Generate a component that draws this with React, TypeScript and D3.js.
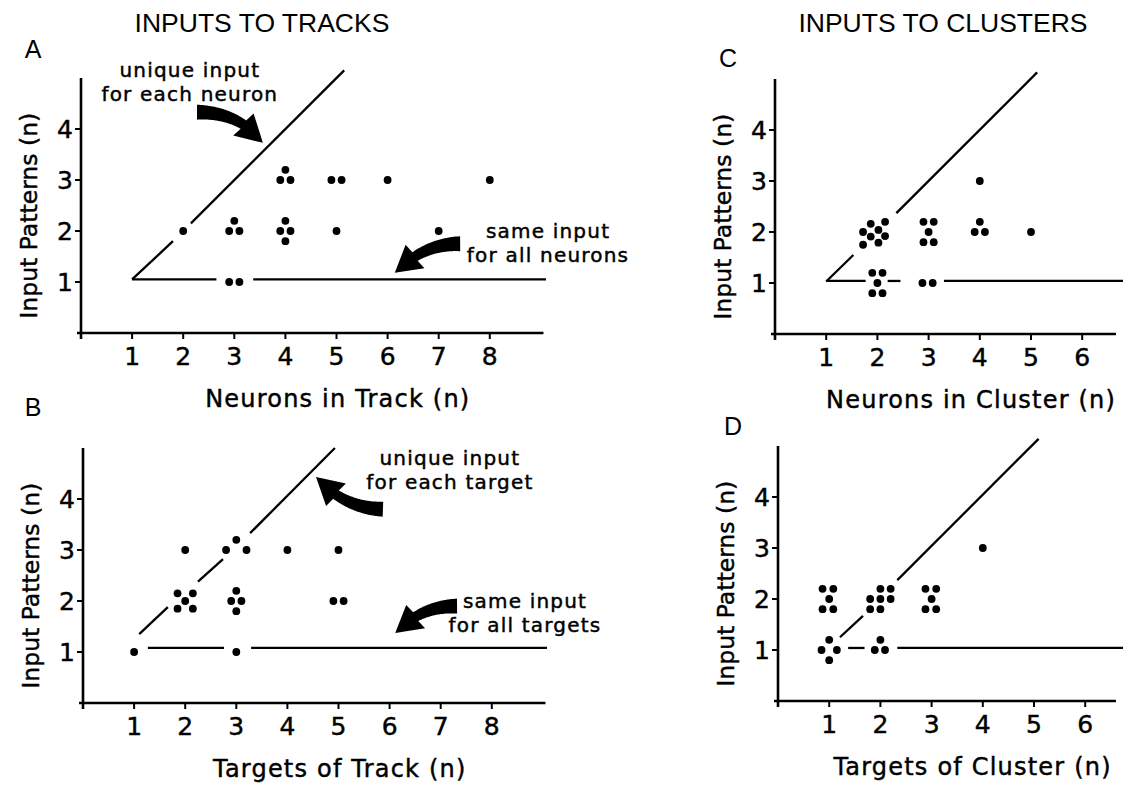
import React from "react";
import * as d3 from "d3";

type P = [number, number];

const W = 1123;
const H = 786;
const font = "'DejaVu Sans', sans-serif";
const titleFont = "'Liberation Sans', Arial, sans-serif";

// ---- data ----
const trackTicks = [1, 2, 3, 4, 5, 6, 7, 8];
const clusterTicks = [1, 2, 3, 4, 5, 6];
const patternTicks = [1, 2, 3, 4];

// A: neurons in track vs input patterns
const neuronTrackDots: P[] = [
  [2, 2],
  [2.9, 2], [3.1, 2], [3, 2.2],
  [2.9, 1], [3.1, 1],
  [3.9, 3], [4.1, 3], [4, 3.2],
  [4, 2.2], [3.9, 2], [4.1, 2], [4, 1.8],
  [4.9, 3], [5.1, 3],
  [5, 2], [6, 3], [7, 2], [8, 3],
];
const neuronTrackDiag: P[][] = [[[1, 1.05], [1.8, 1.8]], [[2.15, 2.15], [5.15, 5.15]]];
const neuronTrackFlat: P[][] = [[[1, 1.05], [2.65, 1.05]], [[3.37, 1.05], [9.1, 1.05]]];

// B: targets of track vs input patterns
const targetTrackDots: P[] = [
  [1, 1], [2, 3], [2.8, 3], [3.2, 3], [3, 3.2], [4, 3], [5, 3],
  [1.85, 2.15], [2.15, 2.15], [2, 2], [1.85, 1.85], [2.15, 1.85],
  [3, 2.2], [2.9, 2], [3.1, 2], [3, 1.8],
  [4.9, 2], [5.1, 2], [3, 1],
];
const targetTrackDiag: P[][] = [
  [[1.1, 1.35], [1.66, 1.88]],
  [[2.25, 2.38], [2.74, 2.82]],
  [[3.27, 3.33], [4.93, 5.0]],
];
const targetTrackFlat: P[][] = [[[1.27, 1.08], [2.76, 1.08]], [[3.29, 1.08], [9.08, 1.08]]];

// C: neurons in cluster vs input patterns
const neuronClusterDots: P[] = [
  [1.87, 2.16], [2.15, 2.2], [1.72, 2.0], [2.02, 2.04],
  [1.87, 1.91], [2.15, 1.92], [1.72, 1.75], [2.02, 1.79],
  [2.9, 2.2], [3.1, 2.2], [3, 2], [2.9, 1.8], [3.1, 1.8],
  [4, 3], [4, 2.2], [3.9, 2], [4.1, 2], [5, 2],
  [1.9, 1.2], [2.1, 1.2], [2, 1], [1.9, 0.8], [2.1, 0.8],
  [2.88, 1], [3.08, 1],
];
const neuronClusterDiag: P[][] = [[[1, 1.03], [1.53, 1.55]], [[2.37, 2.37], [5.12, 5.13]]];
const neuronClusterFlat: P[][] = [
  [[1, 1.04], [1.77, 1.04]],
  [[2.2, 1.04], [2.45, 1.04]],
  [[3.3, 1.04], [7, 1.04]],
];

// D: targets of cluster vs input patterns
const targetClusterDots: P[] = [
  [0.87, 2.2], [1.08, 2.2], [1, 2], [0.87, 1.8], [1.08, 1.8],
  [2, 2.2], [2.2, 2.2], [1.8, 2], [2, 2], [2.2, 2], [1.8, 1.8], [2, 1.8],
  [2.88, 2.2], [3.09, 2.2], [3, 2], [2.88, 1.8], [3.09, 1.8],
  [4, 3],
  [1, 1.2], [0.85, 1], [1.15, 1], [1, 0.8],
  [2, 1.2], [1.89, 1], [2.09, 1],
];
const targetClusterDiag: P[][] = [[[1.21, 1.25], [1.66, 1.67]], [[2.33, 2.37], [5.09, 5.14]]];
const targetClusterFlat: P[][] = [[[1.37, 1.04], [1.69, 1.04]], [[2.33, 1.04], [7, 1.04]]];

// annotation arrows: [tail, bend, tip]
const neuronTrackArrows: P[][] = [
  [[2.27, 4.33], [3.1, 4.33], [3.56, 3.73]],
  [[7.42, 1.75], [6.7, 1.75], [6.14, 1.18]],
];
const targetTrackArrows: P[][] = [
  [[5.87, 3.8], [5.1, 3.82], [4.56, 4.43]],
  [[7.32, 1.9], [6.6, 1.9], [6.11, 1.37]],
];
const neuronTrackNotes = [
  { at: [2.13, 5.02] as P, lines: ["unique input", "for each neuron"] },
  { at: [9.14, 1.86] as P, lines: ["same input", "for all neurons"] },
];
const targetTrackNotes = [
  { at: [7.18, 4.67] as P, lines: ["unique input", "for each target"] },
  { at: [8.65, 1.86] as P, lines: ["same input", "for all targets"] },
];

// ---- layout ----
type Panel = {
  letter: string;
  letterPos: P;
  left: number;
  bottom: number;
  ux: number;
  uy: number;
  xMax: number;
  xTicks: number[];
  xLabel: string;
  dots: P[];
  diag: P[][];
  flat: P[][];
  arrows: P[][];
  notes: { at: P; lines: string[] }[];
};

const panels: Panel[] = [
  {
    letter: "A", letterPos: [33, 58], left: 81, bottom: 333, ux: 51.1, uy: 51, xMax: 9.05,
    xTicks: trackTicks, xLabel: "Neurons in Track (n)",
    dots: neuronTrackDots, diag: neuronTrackDiag, flat: neuronTrackFlat,
    arrows: neuronTrackArrows, notes: neuronTrackNotes,
  },
  {
    letter: "B", letterPos: [33, 416], left: 83, bottom: 703, ux: 51.1, uy: 51, xMax: 9.05,
    xTicks: trackTicks, xLabel: "Targets of Track (n)",
    dots: targetTrackDots, diag: targetTrackDiag, flat: targetTrackFlat,
    arrows: targetTrackArrows, notes: targetTrackNotes,
  },
  {
    letter: "C", letterPos: [728, 67], left: 775, bottom: 334, ux: 51.2, uy: 51, xMax: 6.66,
    xTicks: clusterTicks, xLabel: "Neurons in Cluster (n)",
    dots: neuronClusterDots, diag: neuronClusterDiag, flat: neuronClusterFlat,
    arrows: [], notes: [],
  },
  {
    letter: "D", letterPos: [733, 435], left: 778, bottom: 701, ux: 51.2, uy: 51, xMax: 6.6,
    xTicks: clusterTicks, xLabel: "Targets of Cluster (n)",
    dots: targetClusterDots, diag: targetClusterDiag, flat: targetClusterFlat,
    arrows: [], notes: [],
  },
];

function arrowShape(s: P, c: P, e: P, w0: number, w1: number, headLen: number, headHalf: number) {
  const N = 80;
  const pts: P[] = [];
  for (let i = 0; i <= N; i++) {
    const t = i / N, u = 1 - t;
    pts.push([
      u * u * s[0] + 2 * u * t * c[0] + t * t * e[0],
      u * u * s[1] + 2 * u * t * c[1] + t * t * e[1],
    ]);
  }
  const cum = [0];
  for (let i = 1; i <= N; i++)
    cum.push(cum[i - 1] + Math.hypot(pts[i][0] - pts[i - 1][0], pts[i][1] - pts[i - 1][1]));
  const cut = cum[N] - headLen;
  const left: P[] = [];
  const right: P[] = [];
  let last = 0;
  for (let i = 0; i <= N && cum[i] <= cut; i++) {
    const a = pts[Math.max(0, i - 1)], b = pts[Math.min(N, i + 1)];
    const dx = b[0] - a[0], dy = b[1] - a[1], len = Math.hypot(dx, dy);
    const nx = -dy / len, ny = dx / len;
    const w = (w0 + ((w1 - w0) * cum[i]) / cut) / 2;
    left.push([pts[i][0] + nx * w, pts[i][1] + ny * w]);
    right.push([pts[i][0] - nx * w, pts[i][1] - ny * w]);
    last = i;
  }
  const base = pts[last];
  const dx = e[0] - base[0], dy = e[1] - base[1], len = Math.hypot(dx, dy);
  const nx = -dy / len, ny = dx / len;
  const wl: P = [base[0] + nx * headHalf, base[1] + ny * headHalf];
  const wr: P = [base[0] - nx * headHalf, base[1] - ny * headHalf];
  const poly = [...left, wl, e, wr, ...right.reverse()];
  return "M" + poly.map((p) => p[0].toFixed(1) + "," + p[1].toFixed(1)).join("L") + "Z";
}

const heavy = { stroke: "#000", strokeWidth: 0.45 };

function PanelView({ p }: { p: Panel }) {
  const x = d3.scaleLinear().domain([0, p.xMax]).range([p.left, p.left + p.xMax * p.ux]);
  const y = d3.scaleLinear().domain([0, 5]).range([p.bottom, p.bottom - 5 * p.uy]);
  const line = d3.line<P>().x((d) => x(d[0])).y((d) => y(d[1]));
  const x0 = x(0);
  const y0 = y(0);
  const midX = (x(p.xTicks[0]) + x(p.xMax)) / 2;
  return (
    <g>
      <text x={p.letterPos[0]} y={p.letterPos[1]} fontFamily={titleFont} fontSize={25} textAnchor="middle">
        {p.letter}
      </text>
      {/* axes */}
      <line x1={x0} x2={x0} y1={y(5)} y2={y0 + 6} stroke="#000" strokeWidth={2.6} />
      <line x1={x0 - 4} x2={x(p.xMax)} y1={y0} y2={y0} stroke="#000" strokeWidth={2.6} />
      {p.xTicks.map((t) => (
        <g key={"x" + t}>
          <line x1={x(t)} x2={x(t)} y1={y0} y2={y0 + 6} stroke="#000" strokeWidth={2} />
          <text x={x(t)} y={y0 + 32} fontFamily={font} fontSize={25} textAnchor="middle" {...heavy}>
            {t}
          </text>
        </g>
      ))}
      {patternTicks.map((t) => (
        <g key={"y" + t}>
          <line x1={x0 - 6} x2={x0} y1={y(t)} y2={y(t)} stroke="#000" strokeWidth={2} />
          <text x={x0 - 8} y={y(t) + 9} fontFamily={font} fontSize={25} textAnchor="end" {...heavy}>
            {t}
          </text>
        </g>
      ))}
      <text x={midX} y={y0 + 74} fontFamily={font} fontSize={24} letterSpacing={1.2} textAnchor="middle" {...heavy}>
        {p.xLabel}
      </text>
      <text
        transform={`translate(${x0 - 44},${y(2.3)}) rotate(-90)`}
        fontFamily={font}
        fontSize={23.5}
        textAnchor="middle"
        {...heavy}
      >
        Input Patterns (n)
      </text>
      {/* reference lines */}
      {[...p.diag, ...p.flat].map((seg, i) => (
        <path key={"l" + i} d={line(seg) ?? ""} fill="none" stroke="#000" strokeWidth={2.3} />
      ))}
      {p.dots.map((d, i) => (
        <circle key={"d" + i} cx={x(d[0])} cy={y(d[1])} r={3.9} fill="#000" />
      ))}
      {p.arrows.map((a, i) => (
        <path
          key={"a" + i}
          d={arrowShape(
            [x(a[0][0]), y(a[0][1])],
            [x(a[1][0]), y(a[1][1])],
            [x(a[2][0]), y(a[2][1])],
            15, 10, 26, 15
          )}
          fill="#000"
        />
      ))}
      {p.notes.map((n, i) => (
        <text key={"n" + i} fontFamily={font} fontSize={20} letterSpacing={1.2} textAnchor="middle" {...heavy}>
          {n.lines.map((l, j) => (
            <tspan key={j} x={x(n.at[0])} y={y(n.at[1]) + j * 24}>
              {l}
            </tspan>
          ))}
        </text>
      ))}
    </g>
  );
}

export default function App() {
  return (
    <svg
      width={W}
      height={H}
      viewBox={`0 0 ${W} ${H}`}
      style={{ position: "absolute", left: 0, top: 0, background: "#fff" }}
    >
      <rect width={W} height={H} fill="#fff" />
      <text x={262} y={32} fontFamily={titleFont} fontSize={26.5} textAnchor="middle">
        INPUTS TO TRACKS
      </text>
      <text x={943} y={32} fontFamily={titleFont} fontSize={26.5} textAnchor="middle">
        INPUTS TO CLUSTERS
      </text>
      {panels.map((p) => (
        <PanelView key={p.letter} p={p} />
      ))}
    </svg>
  );
}
